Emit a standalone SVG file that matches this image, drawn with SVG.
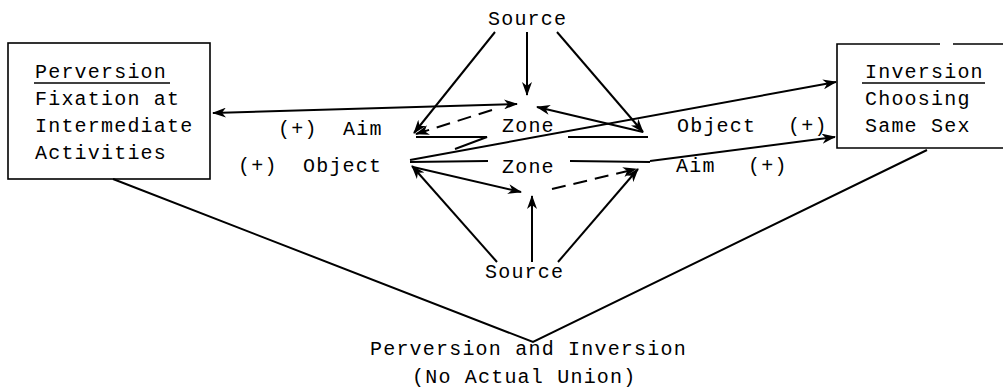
<svg xmlns="http://www.w3.org/2000/svg" width="1003" height="392" viewBox="0 0 1003 392">
<style>
text{font-family:"Liberation Mono","DejaVu Sans Mono",monospace;font-size:20px;letter-spacing:1.2px;fill:#000}
.box{fill:none;stroke:#000;stroke-width:1.6}
.c{fill:none;stroke:#000;stroke-width:2}
.a{marker-end:url(#ah)}
.d{stroke-dasharray:14 8}
.u{stroke:#000;stroke-width:1.4}
</style>
<defs>
<marker id="ah" viewBox="0 0 14 10" refX="13" refY="5" markerWidth="14" markerHeight="10" markerUnits="userSpaceOnUse" orient="auto-start-reverse">
<path d="M0,0 L14,5 L0,10 L4,5 z" fill="#000"/>
</marker>
</defs>
<rect width="1003" height="392" fill="#fff"/>
<g id="perversion">
<rect class="box" x="8" y="43" width="202" height="136"/>
<text x="35" y="78">Perversion</text>
<line class="u" x1="34" y1="83" x2="170" y2="83"/>
<text x="35" y="105">Fixation at</text>
<text x="35" y="132">Intermediate</text>
<text x="35" y="159">Activities</text>
</g>
<g id="inversion">
<path class="box" d="M1003 44 H953 M940 44 H837 V148 H1003"/>
<text x="865" y="78">Inversion</text>
<line class="u" x1="862" y1="83" x2="985" y2="83"/>
<text x="865" y="105">Choosing</text>
<text x="865" y="132">Same Sex</text>
</g>
<g id="source-top"><text x="488" y="25">Source</text></g>
<g id="source-bottom"><text x="485" y="278">Source</text></g>
<g id="aim-upper"><text x="278" y="135">(+)</text><text x="343" y="135">Aim</text></g>
<g id="zone-upper"><text x="502" y="132">Zone</text></g>
<g id="object-upper"><text x="677" y="132">Object</text><text x="788" y="132">(+)</text></g>
<g id="object-lower"><text x="238" y="172">(+)</text><text x="303" y="172">Object</text></g>
<g id="zone-lower"><text x="502" y="173">Zone</text></g>
<g id="aim-lower"><text x="676" y="172">Aim</text><text x="748" y="172">(+)</text></g>
<g id="union"><text x="370" y="355">Perversion and Inversion</text><text x="412" y="383">(No Actual Union)</text></g>
<g id="connectors">
<line class="c a" x1="213" y1="113" x2="517" y2="104" style="marker-start:url(#ah)"/>
<line class="c a" x1="527" y1="32" x2="527" y2="95"/>
<line class="c a" x1="495" y1="32" x2="414" y2="133"/>
<line class="c a" x1="557" y1="32" x2="643" y2="132"/>
<line class="c a" x1="643" y1="132" x2="537" y2="107"/>
<line class="c a d" x1="492" y1="110" x2="416" y2="134"/>
<polyline class="c" points="416,137 487,137 455,149"/>
<line class="c" x1="568" y1="137" x2="648" y2="137"/>
<line class="c a" x1="410" y1="160" x2="836" y2="82"/>
<line class="c" x1="410" y1="162" x2="488" y2="161"/>
<line class="c" x1="570" y1="161" x2="650" y2="162"/>
<line class="c a" x1="650" y1="161" x2="835" y2="137"/>
<line class="c a" x1="413" y1="167" x2="521" y2="192"/>
<line class="c a" x1="532" y1="262" x2="532" y2="196"/>
<line class="c a" x1="497" y1="262" x2="412" y2="166"/>
<line class="c a" x1="558" y1="262" x2="638" y2="169"/>
<line class="c a d" x1="552" y1="189" x2="636" y2="169"/>
<polyline class="c" points="113,179 533,342 927,150"/>
</g>
</svg>
